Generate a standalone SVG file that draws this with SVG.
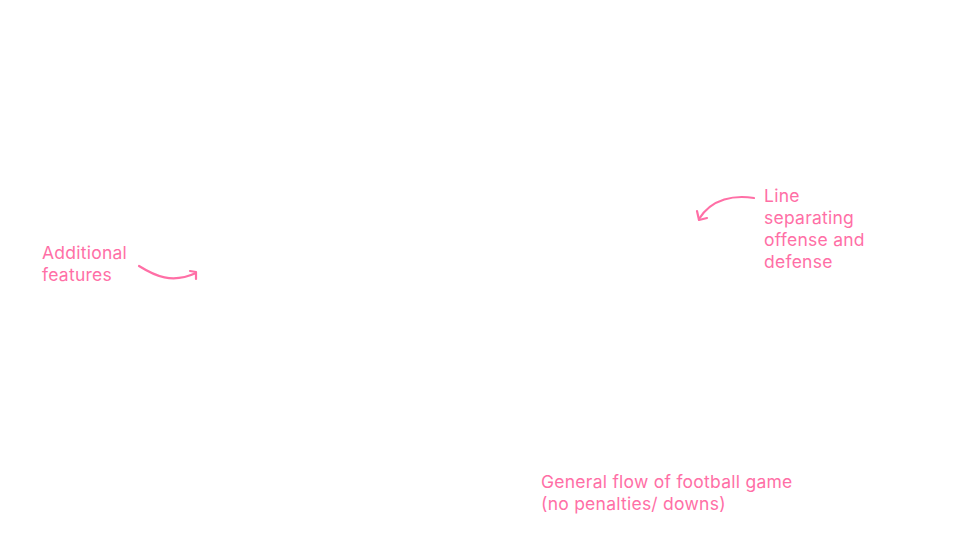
<svg xmlns="http://www.w3.org/2000/svg" width="960" height="540" viewBox="0 0 960 540">
<style>
.t{font-family:Inter,"Liberation Sans",sans-serif;font-size:17.5px;letter-spacing:0.25px;fill:#ff6fa6}
.a{fill:none;stroke:#ff6fa6;stroke-width:2.2;stroke-linecap:round;stroke-linejoin:round}
</style>
<rect width="960" height="540" fill="#fff"/>
<g id="note-features">
<text class="t" x="42" y="259">Additional</text>
<text class="t" x="42" y="281">features</text>
</g>
<g id="note-line">
<text class="t" x="764" y="202">Line</text>
<text class="t" x="764" y="224">separating</text>
<text class="t" x="764" y="246">offense and</text>
<text class="t" x="764" y="268">defense</text>
</g>
<g id="note-flow">
<text class="t" x="541" y="488">General flow of football game</text>
<text class="t" x="541" y="510">(no penalties/ downs)</text>
</g>
<g id="connectors">
<path class="a" d="M139,266 C155,276 172,284 196,273"/>
<path class="a" d="M190,271 L196,272 L196,279"/>
<path class="a" d="M754,198 C735,195 712,198 699,219"/>
<path class="a" d="M697,211 L699,220 L707,218"/>
</g>
</svg>
